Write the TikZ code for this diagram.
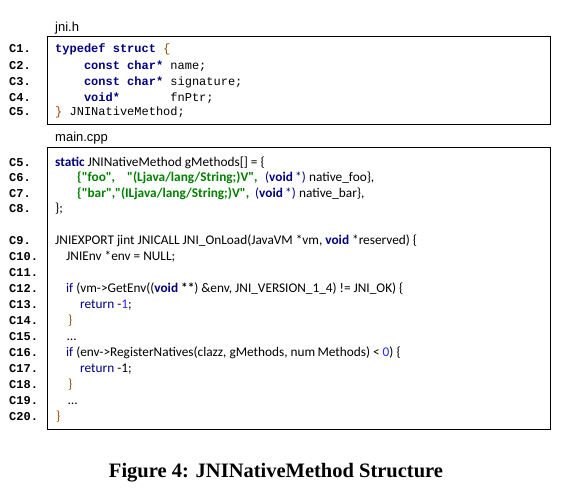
\documentclass[tikz,border=0pt]{standalone}
\usepackage{fontspec}
\setmainfont{Liberation Serif}
\newfontfamily\codemono{Liberation Mono}
\newfontfamily\codesans{Carlito}
\newfontfamily\labsans{Liberation Sans}
\definecolor{kwnavy}{RGB}{0,0,128}
\definecolor{strgreen}{RGB}{0,128,0}
\definecolor{bracec}{RGB}{150,75,0}
\definecolor{numblue}{RGB}{40,40,255}
\begin{document}
\begin{tikzpicture}[x=1pt,y=-1pt,
  lnum/.style={anchor=west,inner sep=0pt,text height=8pt,text depth=0pt,font=\codemono\bfseries\fontsize{12}{12}\selectfont},
  mono/.style={anchor=west,inner sep=0pt,text height=8pt,text depth=0pt,font=\codemono\fontsize{12}{12}\selectfont},
  csans/.style={anchor=west,inner sep=0pt,text height=8pt,text depth=0pt,font=\codesans\fontsize{13.3}{13.3}\selectfont},
  flabel/.style={anchor=west,inner sep=0pt,text height=8pt,text depth=0pt,font=\labsans\fontsize{13}{13}\selectfont},
  codebox/.style={draw=black,line width=0.9pt,inner sep=0pt,anchor=north west}]
\useasboundingbox (0,0) rectangle (577,501);
\fill[white] (0,0) rectangle (577,501);
% file labels
\node[flabel] (fjni) at (55,27) {jni.h};
\node[flabel] (fmain) at (55,137) {main.cpp};
% boxes
\node[codebox,minimum width=503pt,minimum height=88pt] (hbox) at (47,36) {};
\node[codebox,minimum width=503pt,minimum height=282pt] (mbox) at (47,147) {};
% line numbers box 1
\node[lnum] (a1) at (9,48) {C1.};
\node[lnum] (a2) at (9,65) {C2.};
\node[lnum] (a3) at (9,81) {C3.};
\node[lnum] (a4) at (9,97.5) {C4.};
\node[lnum] (a5) at (9,111) {C5.};
% code box 1
\node[mono] (h1) at (55,48) {\textcolor{kwnavy}{\bfseries typedef~struct}~\textcolor{bracec}{\{}};
\node[mono] (h2) at (55,65) {~~~~\textcolor{kwnavy}{\bfseries const~char*}~name;};
\node[mono] (h3) at (55,81) {~~~~\textcolor{kwnavy}{\bfseries const~char*}~signature;};
\node[mono] (h4) at (55,97.5) {~~~~\textcolor{kwnavy}{\bfseries void*}~~~~~~~fnPtr;};
\node[mono] (h5) at (55,111) {\textcolor{bracec}{\}}~JNINativeMethod;};
% line numbers box 2
\node[lnum] (b5) at (9,162) {C5.};
\node[lnum] (b6) at (9,177.5) {C6.};
\node[lnum] (b7) at (9,193) {C7.};
\node[lnum] (b8) at (9,208) {C8.};
\node[lnum] (b9) at (9,240) {C9.};
\node[lnum] (b10) at (9,256) {C10.};
\node[lnum] (b11) at (9,272) {C11.};
\node[lnum] (b12) at (9,288) {C12.};
\node[lnum] (b13) at (9,304) {C13.};
\node[lnum] (b14) at (9,320) {C14.};
\node[lnum] (b15) at (9,336) {C15.};
\node[lnum] (b16) at (9,352) {C16.};
\node[lnum] (b17) at (9,368) {C17.};
\node[lnum] (b18) at (9,384) {C18.};
\node[lnum] (b19) at (9,400) {C19.};
\node[lnum] (b20) at (9,416) {C20.};
% code box 2
\node[csans] (m5) at (55,162) {\textcolor{kwnavy}{\bfseries static} JNINativeMethod gMethods[] = \{};
\node[csans] (m6a) at (77,177.5) {\textcolor{strgreen}{\bfseries \{"foo",}};
\node[csans] (m6b) at (127,177.5) {\textcolor{strgreen}{\bfseries "(Ljava/lang/String;)V",}};
\node[csans] (m6c) at (265,177.5) {\textcolor{kwnavy}{(\textbf{void}\,*)}};
\node[csans] (m6d) at (309,177.5) {native\_foo\},};
\node[csans] (m7a) at (77,193) {\textcolor{strgreen}{\bfseries \{"bar",}};
\node[csans] (m7b) at (115,193) {\textcolor{strgreen}{\bfseries "(ILjava/lang/String;)V",}};
\node[csans] (m7c) at (255,193) {\textcolor{kwnavy}{(\textbf{void}\,*)}};
\node[csans] (m7d) at (299,193) {native\_bar\},};
\node[csans] (m8) at (55,208) {\};};
\node[csans] (m9) at (55,240) {JNIEXPORT jint JNICALL JNI\_OnLoad(JavaVM *vm, \textcolor{kwnavy}{\bfseries void} *reserved) \{};
\node[csans] (m10) at (66,256) {JNIEnv *env = NULL;};
\node[csans] (m12) at (66,288) {\textcolor{kwnavy}{if} (vm->GetEnv((\textcolor{kwnavy}{\bfseries void}~\textbf{**}) \&env, JNI\_VERSION\_1\_4) != JNI\_OK) \{};
\node[csans] (m13) at (80,304) {\textcolor{kwnavy}{return} -\textcolor{numblue}{1};};
\node[csans] (m14) at (68,320) {\textcolor{bracec}{\}}};
\node[csans] (m15) at (67,336) {…};
\node[csans] (m16) at (66,352) {\textcolor{kwnavy}{if} (env->RegisterNatives(clazz, gMethods, num\,Methods) < \textcolor{numblue}{0}) \{};
\node[csans] (m17) at (80,368) {\textcolor{kwnavy}{return} -1;};
\node[csans] (m18) at (68,384) {\textcolor{bracec}{\}}};
\node[csans] (m19) at (68,400) {…};
\node[csans] (m20) at (56,416) {\textcolor{bracec}{\}}};
% caption
\node[anchor=base,inner sep=0pt,font=\bfseries\fontsize{20.5}{20.5}\selectfont] (cap) at (276,477) {Figure 4: JNINativeMethod Structure};
\end{tikzpicture}
\end{document}
